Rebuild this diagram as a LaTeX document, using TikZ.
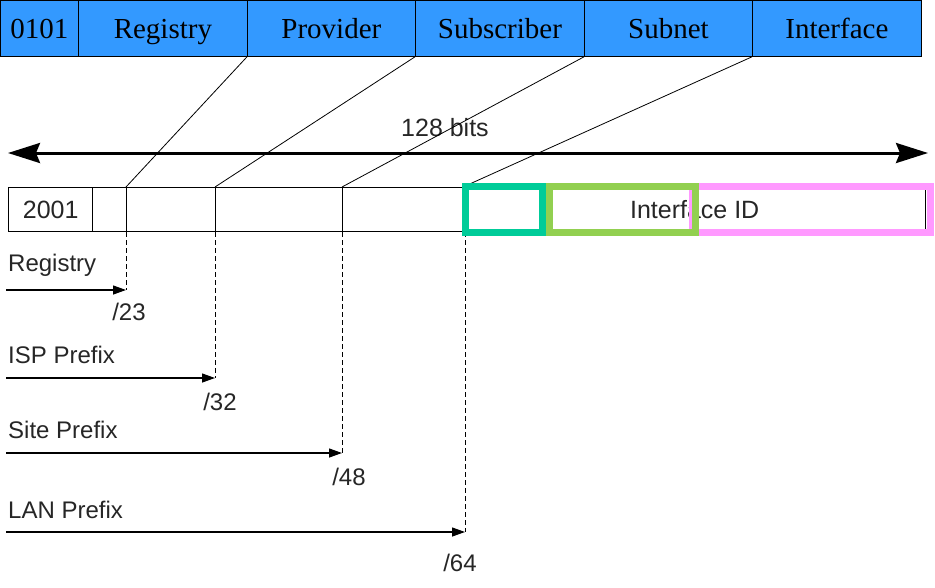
\documentclass[tikz,border=0pt]{standalone}
\usepackage{fontspec}
\setmainfont{Liberation Serif}
\setsansfont{Liberation Sans}
\usetikzlibrary{arrows.meta}

\begin{document}
\begin{tikzpicture}[x=1pt,y=-1pt,
    topcell/.style={draw=black, line width=0.8pt, fill=barblue, minimum height=56pt,
        inner sep=0pt, text height=22pt, text depth=2pt, anchor=north west,
        font=\fontsize{29}{29}\selectfont},
    field/.style={draw=black, line width=1.4pt, minimum height=44pt, inner sep=0pt,
        anchor=north west, text=black!85, font=\sffamily\fontsize{25}{25}\selectfont},
    lbl/.style={inner sep=0pt, text=black!85, font=\sffamily\fontsize{24}{24}\selectfont},
    pfx/.style={-{Triangle[length=13pt,width=9pt]}, line width=1.3pt},
    guide/.style={line width=1pt, dash pattern=on 5pt off 3pt},
    slant/.style={line width=0.8pt},
    hilite/.style={line width=7pt}]
    % Define colors
    \definecolor{barblue}{RGB}{51,153,255}
    \definecolor{tealbox}{RGB}{0,204,153}
    \definecolor{greenbox}{RGB}{146,208,80}
    \definecolor{pinkbox}{RGB}{255,153,255}

    \useasboundingbox (0,0) rectangle (935,587);

    % Draw top bar
    \foreach \x/\w/\t [count=\i] in {0/78/0101, 78/169/Registry, 247/168/Provider,
        415/169/Subscriber, 584/168/Subnet, 752/169/Interface}
        \node[topcell, minimum width=\w pt] (top\i) at (\x,0) {\t};

    % Draw address fields
    \foreach \x/\w/\t [count=\i] in {8/84/2001, 92/123/, 215/127/, 342/121/, 463/462/Interface ID}
        \node[field, minimum width=\w pt] (f\i) at (\x,187) {\t};

    % 128 bits arrow
    \coordinate (bl) at (8,153);
    \coordinate (br) at (928,153);
    \draw[{Stealth[length=32pt,width=20pt,inset=4pt]}-{Stealth[length=32pt,width=20pt,inset=4pt]}, line width=3pt] (bl) -- (br);
    \node[lbl, font=\sffamily\fontsize{25}{25}\selectfont] (bits) at (445,128) {128 bits};

    % Prefix arrows and labels
    \foreach \n/\xe/\xn/\ya/\yl/\yn/\t in {23/126/129/290/265/312/Registry,
        32/215/220/378/355/402/ISP Prefix, 48/342/349/453/430/477/Site Prefix,
        64/465/460/532/510/563/LAN Prefix} {
        \coordinate (s\n) at (6,\ya);
        \coordinate (e\n) at (\xe,\ya);
        \draw[guide] (e\n |- f1.south) -- (e\n);
        \draw[pfx] (s\n) -- (e\n);
        \node[lbl, anchor=west] (l\n) at (8,\yl) {\t};
        \node[lbl] (n\n) at (\xn,\yn) {/\n};
    }
    \draw[slant] (e23 |- f1.north) -- (e23 |- f1.south);

    % Lines from top bar
    \draw[slant] (top3.south west) -- (e23 |- f1.north);
    \draw[slant] (top4.south west) -- (f3.north west);
    \draw[slant] (top5.south west) -- (f4.north west);
    \draw[slant] (top6.south west) -- (f5.north west);

    % Coloured frames
    \draw[hilite, pinkbox] (692,186.5) rectangle (930.5,232.5);
    \draw[hilite, greenbox] (549.5,186.5) rectangle (695.5,232.5);
    \draw[hilite, tealbox] (465.5,186.5) rectangle (542.5,232.5);
\end{tikzpicture}
\end{document}
